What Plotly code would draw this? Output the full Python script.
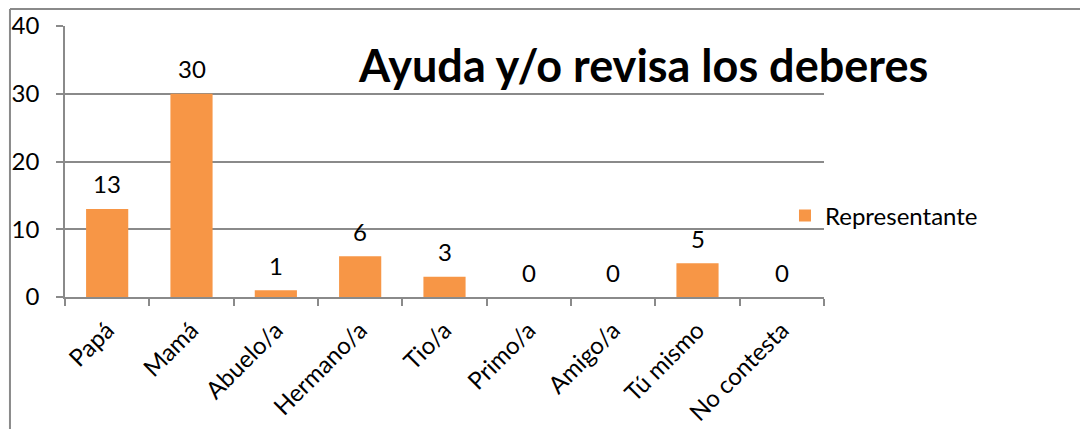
import plotly.graph_objects as go

categories = ["Papá", "Mamá", "Abuelo/a", "Hermano/a", "Tio/a", "Primo/a", "Amigo/a", "Tú mismo", "No contesta"]
values = [13, 30, 1, 6, 3, 0, 0, 5, 0]
series_name = "Representante"
title_text = "Ayuda y/o revisa los deberes"
y_ticks = [0, 10, 20, 30, 40]

FONT = "Lato"
GRID = "#8a8a8a"
BAR = "#F79646"

fig = go.Figure()
fig.add_trace(go.Bar(
    x=categories, y=values, name=series_name,
    marker=dict(color=BAR, line=dict(width=0)),
    showlegend=True,
))

for c, v in zip(categories, values):
    fig.add_annotation(x=c, y=v, text=str(v), showarrow=False,
                       yshift=25, xref="x", yref="y",
                       font=dict(family=FONT, size=24, color="black"))

fig.add_annotation(x=0.7615, y=0.856, xref="paper", yref="paper",
                   text="<b>" + title_text + "</b>", showarrow=False,
                   xanchor="center", yanchor="middle",
                   font=dict(family=FONT, size=45, color="black"))

# outer chart border (left and top edges)
fig.add_shape(type="line", xref="paper", yref="paper",
              x0=-0.0725, x1=-0.0725, y0=1.063, y1=-0.6,
              line=dict(color=GRID, width=2))
fig.add_shape(type="line", xref="paper", yref="paper",
              x0=-0.0725, x1=1.4, y0=1.063, y1=1.063,
              line=dict(color=GRID, width=2))

fig.update_layout(
    width=1080, height=429,
    margin=dict(l=65, r=256, t=26, b=132, autoexpand=False),
    paper_bgcolor="white", plot_bgcolor="white",
    bargap=0.5,
    font=dict(family=FONT, size=24, color="black"),
    legend=dict(x=0.9486, y=0.299, xanchor="left", yanchor="middle",
                font=dict(family=FONT, size=24), bgcolor="rgba(0,0,0,0)"),
    xaxis=dict(
        type="category", showgrid=False, showline=True, linecolor=GRID, linewidth=1.5,
        ticks="outside", tickson="boundaries", ticklen=7, tickcolor=GRID, tickwidth=1.5,
        tickangle=-45, tickfont=dict(family=FONT, size=24), automargin=False,
        ticklabelstandoff=8,
    ),
    yaxis=dict(
        range=[0, 40], tickvals=y_ticks, showgrid=True, gridcolor=GRID, gridwidth=1.5,
        zeroline=False, showline=True, linecolor=GRID, linewidth=1.5,
        ticks="outside", ticklen=7, tickcolor=GRID, tickwidth=1.5,
        ticklabelstandoff=12, automargin=False,
        tickfont=dict(family=FONT, size=24),
    ),
)

fig.write_html("out.html", config={"displayModeBar": False},
               post_script="document.body.style.margin='0';document.body.style.overflow='hidden';")
